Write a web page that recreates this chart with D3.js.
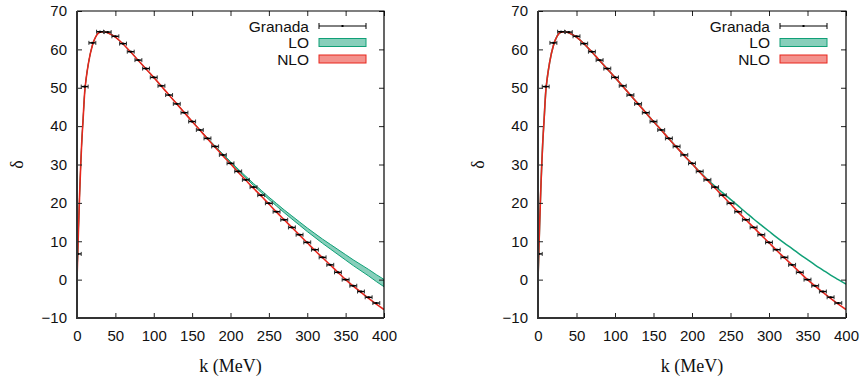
<!DOCTYPE html>
<html>
<head>
<meta charset="utf-8">
<script src="https://cdn.jsdelivr.net/npm/d3@7"></script>
<style>
  body { margin: 0; background: #fff; }
  svg { display: block; }
  .tick text { font-family: "Liberation Sans", Arial, sans-serif; font-size: 15px; fill: #111; }
</style>
</head>
<body>
<svg id="chart" width="863" height="380"></svg>
<script>
// Granada data points (k in MeV, delta in degrees)
const granadaK = [1, 10, 20, 30, 40, 50, 60, 70, 80, 90, 100, 110, 120, 130, 140, 150, 160, 170, 180, 190,
  200, 210, 220, 230, 240, 250, 260, 270, 280, 290, 300, 310, 320, 330, 340, 350, 360, 370, 380, 390];
const granadaDelta = [6.7, 50.3, 61.7, 64.6, 64.5, 63.4, 61.5, 59.4, 57.2, 55.0, 52.7, 50.5, 48.1, 45.8, 43.5, 41.2, 39.0, 36.8, 34.7, 32.5,
  30.3, 28.2, 26.0, 24.1, 22.0, 19.9, 17.7, 15.6, 13.6, 11.7, 9.7, 7.8, 5.8, 3.85, 1.9, 0.0, -1.6, -3.1, -4.6, -6.1];
const granadaErrK = 4.5;

// curve grid
const curveK = [0, 1, 2, 3, 4, 5, 6, 8, 10, 12, 15, 20, 25, 30, 35, 40, 45, 50, 60, 70, 80, 90, 100, 110, 120, 130, 140, 150,
  160, 170, 180, 190, 200, 210, 220, 230, 240, 250, 260, 270, 280, 290, 300, 310, 320, 330, 340, 350, 360, 370, 380, 390, 400];

// NLO (same in both panels)
const nloDelta = [0, 6.8, 13.5, 19.8, 25.5, 30.5, 35.0, 42.0, 48.8, 52.5, 56.5, 61.0, 63.5, 64.5, 64.6, 64.3, 63.8, 63.2, 61.4, 59.3, 57.1, 54.9, 52.7, 50.4, 48.1, 45.8, 43.5, 41.2,
  39.0, 36.7, 34.5, 32.3, 30.2, 28.0, 25.9, 23.8, 21.8, 19.7, 17.6, 15.6, 13.6, 11.6, 9.6, 7.6, 5.7, 3.8, 1.9, 0.0, -1.7, -3.3, -4.9, -6.4, -7.8];

// LO, left panel (band)
const loLeftDelta = [0, 6.8, 13.5, 19.8, 25.5, 30.5, 35.0, 42.0, 48.8, 52.5, 56.5, 61.0, 63.5, 64.5, 64.6, 64.3, 63.8, 63.2, 61.4, 59.3, 57.1, 54.9, 52.7, 50.4, 48.1, 45.8, 43.5, 41.2,
  39.0, 36.8, 34.7, 32.6, 30.6, 28.6, 26.7, 24.8, 23.0, 21.2, 19.5, 17.8, 16.2, 14.6, 13.0, 11.5, 10.0, 8.6, 7.2, 5.8, 4.4, 3.1, 1.8, 0.4, -0.9];
const loLeftHalf = [0, 0, 0, 0, 0, 0, 0, 0, 0, 0, 0, 0, 0, 0, 0, 0, 0, 0, 0, 0, 0, 0, 0, 0, 0, 0, 0.05, 0.05,
  0.08, 0.1, 0.12, 0.15, 0.18, 0.2, 0.22, 0.25, 0.28, 0.3, 0.33, 0.36, 0.4, 0.43, 0.47, 0.5, 0.55, 0.6, 0.65, 0.7, 0.75, 0.8, 0.85, 0.9, 0.95];

// LO, right panel (thin line)
const loRightDelta = [0, 6.8, 13.5, 19.8, 25.5, 30.5, 35.0, 42.0, 48.8, 52.5, 56.5, 61.0, 63.5, 64.5, 64.6, 64.3, 63.8, 63.2, 61.4, 59.3, 57.1, 54.9, 52.7, 50.4, 48.1, 45.8, 43.5, 41.2,
  39.0, 36.7, 34.5, 32.3, 30.2, 28.1, 26.1, 24.3, 22.6, 20.9, 19.2, 17.5, 15.8, 14.2, 12.6, 11.0, 9.5, 8.1, 6.6, 5.2, 3.8, 2.5, 1.2, 0.0, -1.2];

const xTicks = [0, 50, 100, 150, 200, 250, 300, 350, 400];
const yTicks = [-10, 0, 10, 20, 30, 40, 50, 60, 70];

const green = "#10a077";
const red = "#e8261c";
const svg = d3.select("#chart");

function drawPanel(left, right, loDelta, loHalf, legendRight) {
  const top = 11, bottom = 318;
  const x = d3.scaleLinear().domain([0, 400]).range([left, right]);
  const y = d3.scaleLinear().domain([-10, 70]).range([bottom, top]);
  const g = svg.append("g");
  const clipId = "clip" + left;

  g.append("clipPath").attr("id", clipId)
    .append("rect").attr("x", left).attr("y", top).attr("width", right - left).attr("height", bottom - top);

  const plot = g.append("g").attr("clip-path", "url(#" + clipId + ")");
  const idx = d3.range(curveK.length);

  // LO band / line
  if (loHalf) {
    const area = d3.area()
      .x(i => x(curveK[i]))
      .y0(i => y(loDelta[i] - loHalf[i]))
      .y1(i => y(loDelta[i] + loHalf[i]))
      .curve(d3.curveMonotoneX);
    plot.append("path").datum(idx).attr("d", area)
      .attr("fill", green).attr("fill-opacity", 0.5)
      .attr("stroke", green).attr("stroke-width", 1);
  } else {
    const line = d3.line().x(i => x(curveK[i])).y(i => y(loDelta[i])).curve(d3.curveMonotoneX);
    plot.append("path").datum(idx).attr("d", line)
      .attr("fill", "none").attr("stroke", green).attr("stroke-width", 1.5);
  }

  // NLO
  const nloLine = d3.line().x(i => x(curveK[i])).y(i => y(nloDelta[i])).curve(d3.curveMonotoneX);
  plot.append("path").datum(idx).attr("d", nloLine)
    .attr("fill", "none").attr("stroke", red).attr("stroke-width", 1.6);

  // Granada x error bars
  const pts = plot.append("g").selectAll("g").data(d3.range(granadaK.length)).join("g");
  pts.append("line")
    .attr("x1", i => x(granadaK[i] - granadaErrK)).attr("x2", i => x(granadaK[i] + granadaErrK))
    .attr("y1", i => y(granadaDelta[i])).attr("y2", i => y(granadaDelta[i]))
    .attr("stroke", "#000").attr("stroke-width", 1.4);
  [-1, 1].forEach(s => {
    pts.append("line")
      .attr("x1", i => x(granadaK[i] + s * granadaErrK)).attr("x2", i => x(granadaK[i] + s * granadaErrK))
      .attr("y1", i => y(granadaDelta[i]) - 2).attr("y2", i => y(granadaDelta[i]) + 2)
      .attr("stroke", "#333").attr("stroke-width", 1);
  });
  pts.append("rect")
    .attr("x", i => x(granadaK[i]) - 1).attr("y", i => y(granadaDelta[i]) - 1)
    .attr("width", 2).attr("height", 2).attr("fill", "#000");

  // axes with inward ticks, mirrored
  g.append("g").attr("transform", `translate(0,${bottom})`)
    .call(d3.axisBottom(x).tickValues(xTicks).tickSize(-5).tickSizeOuter(0).tickPadding(12.5))
    .call(a => a.select(".domain").remove());
  g.append("g").attr("transform", `translate(${left},0)`)
    .call(d3.axisLeft(y).tickValues(yTicks).tickSize(-5).tickSizeOuter(0).tickPadding(10))
    .call(a => a.select(".domain").remove());
  g.append("g").attr("transform", `translate(0,${top})`)
    .call(d3.axisTop(x).tickValues(xTicks).tickSize(-5).tickSizeOuter(0).tickFormat(""))
    .call(a => a.select(".domain").remove());
  g.append("g").attr("transform", `translate(${right},0)`)
    .call(d3.axisRight(y).tickValues(yTicks).tickSize(-5).tickSizeOuter(0).tickFormat(""))
    .call(a => a.select(".domain").remove());
  g.selectAll(".tick line").attr("stroke", "#222");

  // border
  g.append("path").attr("d", `M${left},${top}H${right}V${bottom}`)
    .attr("fill", "none").attr("stroke", "#000").attr("stroke-width", 1.2);
  g.append("path").attr("d", `M${left},${top}V${bottom}H${right}`)
    .attr("fill", "none").attr("stroke", "#333").attr("stroke-width", 2);

  // axis titles
  g.append("text").attr("x", (left + right) / 2).attr("y", 372)
    .attr("text-anchor", "middle").attr("fill", "#111")
    .style("font-family", "'Liberation Serif', 'Times New Roman', serif").style("font-size", "18px")
    .text("k (MeV)");
  g.append("text")
    .attr("transform", `translate(${left - 60},${(top + bottom) / 2}) rotate(-90)`)
    .attr("text-anchor", "middle").attr("dy", "0.35em").attr("fill", "#111")
    .style("font-family", "'Liberation Serif', 'Times New Roman', serif").style("font-size", "18px")
    .text("δ");

  // legend
  const lg = g.append("g").style("font-family", "'Liberation Sans', Arial, sans-serif").style("font-size", "15.5px");
  const sx0 = legendRight + 10, sx1 = legendRight + 57;
  const rows = [26, 42.5, 59];
  ["Granada", "LO", "NLO"].forEach((t, i) => {
    lg.append("text").attr("x", legendRight).attr("y", rows[i]).attr("dy", "0.36em")
      .attr("text-anchor", "end").attr("fill", "#111").text(t);
  });
  lg.append("path").attr("d", `M${sx0},${rows[0]}H${sx1}M${sx0},${rows[0] - 3}V${rows[0] + 3}M${sx1},${rows[0] - 3}V${rows[0] + 3}`)
    .attr("stroke", "#000").attr("stroke-width", 1);
  lg.append("rect").attr("x", (sx0 + sx1) / 2 - 1).attr("y", rows[0] - 1).attr("width", 2).attr("height", 2).attr("fill", "#000");
  [[green, rows[1]], [red, rows[2]]].forEach(([c, ry]) => {
    lg.append("rect").attr("x", sx0).attr("y", ry - 4).attr("width", sx1 - sx0).attr("height", 8)
      .attr("fill", c).attr("fill-opacity", 0.5).attr("stroke", c).attr("stroke-width", 1);
  });
}

drawPanel(77, 384, loLeftDelta, loLeftHalf, 309);
drawPanel(538, 846, loRightDelta, null, 770);
</script>
</body>
</html>
